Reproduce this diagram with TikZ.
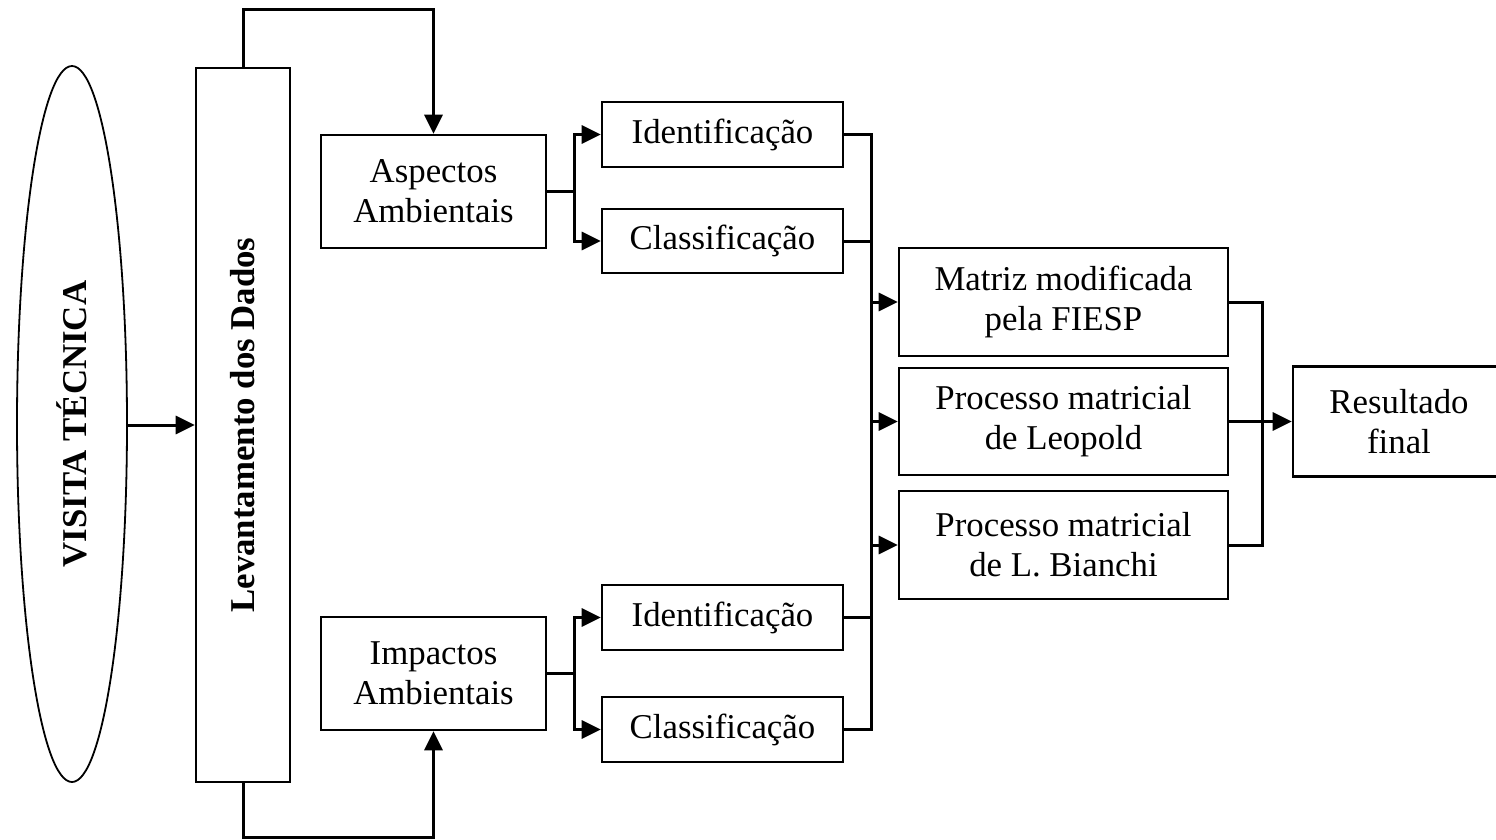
\documentclass[tikz,border=0pt]{standalone}
\usepackage{fontspec}
\setmainfont{Liberation Serif}
\usetikzlibrary{shapes.geometric,arrows.meta}
\begin{document}
\begin{tikzpicture}[x=1pt,y=-1pt,
  every node/.style={font=\fontsize{34.8}{40}\selectfont},
  boxA/.style={draw,line width=2.6pt,rectangle,inner sep=0pt,align=center},
  ovalA/.style={draw,line width=1.8pt,ellipse,inner sep=0pt},
  conn/.style={line width=3pt},
  arr/.style={line width=3pt,-{Triangle[length=19pt,width=18pt]}}]
\useasboundingbox (0,0) rectangle (1496,839);
\node[ovalA,minimum width=110pt,minimum height=716pt] (vt) at (72,424) {\rotatebox{90}{\bfseries VISITA TÉCNICA}};
\node[boxA,minimum width=94pt,minimum height=714pt] (lev) at (243,425) {\rotatebox{90}{\bfseries Levantamento dos Dados}};
\node[boxA,minimum width=225pt,minimum height=113pt] (asp) at (433.5,191.5) {Aspectos\\Ambientais};
\node[boxA,minimum width=225pt,minimum height=113pt] (imp) at (433.5,673.5) {Impactos\\Ambientais};
\node[boxA,minimum width=241pt,minimum height=65pt] (id1) at (722.5,134.5) {Identificação};
\node[boxA,minimum width=241pt,minimum height=64pt] (cl1) at (722.5,241) {Classificação};
\node[boxA,minimum width=241pt,minimum height=65pt] (id2) at (722.5,617.5) {Identificação};
\node[boxA,minimum width=241pt,minimum height=65pt] (cl2) at (722.5,729.5) {Classificação};
\node[boxA,minimum width=329pt,minimum height=108pt] (mat) at (1063.5,302) {Matriz modificada\\pela FIESP};
\node[boxA,minimum width=329pt,minimum height=107pt] (leo) at (1063.5,421.5) {Processo matricial\\de Leopold};
\node[boxA,minimum width=329pt,minimum height=108pt] (bia) at (1063.5,545) {Processo matricial\\de L. Bianchi};
\node[boxA,minimum width=212pt,minimum height=110pt] (res) at (1399,421.5) {Resultado\\final};
% ellipse to levantamento
\draw[arr] (vt.east |- 0,425) -- (lev.west |- 0,425);
% top and bottom loops
\draw[arr] (lev.north) -- ++(0,-57) -| (asp.north);
\draw[arr] (lev.south) -- ++(0,54) -| (imp.south);
% forks
\draw[conn] (asp.east) -- ++(27,0) coordinate (f1);
\draw[arr] (f1) |- (id1.west);
\draw[arr] (f1) |- (cl1.west);
\draw[conn] (imp.east) -- ++(27,0) coordinate (f2);
\draw[arr] (f2) |- (id2.west);
\draw[arr] (f2) |- (cl2.west);
% collector
\draw[conn] (id1.east) -- ++(27,0) coordinate (c1) -- (c1 |- cl2.east) -- (cl2.east);
\draw[conn] (cl1.east) -- (c1 |- cl1.east);
\draw[conn] (id2.east) -- (c1 |- id2.east);
\draw[arr] (c1 |- mat.west) -- (mat.west);
\draw[arr] (c1 |- leo.west) -- (leo.west);
\draw[arr] (c1 |- bia.west) -- (bia.west);
% right collector
\draw[conn] (mat.east) -- ++(33,0) coordinate (c2) -- (c2 |- bia.east) -- (bia.east);
\draw[arr] (leo.east) -- (res.west);
\end{tikzpicture}
\end{document}
